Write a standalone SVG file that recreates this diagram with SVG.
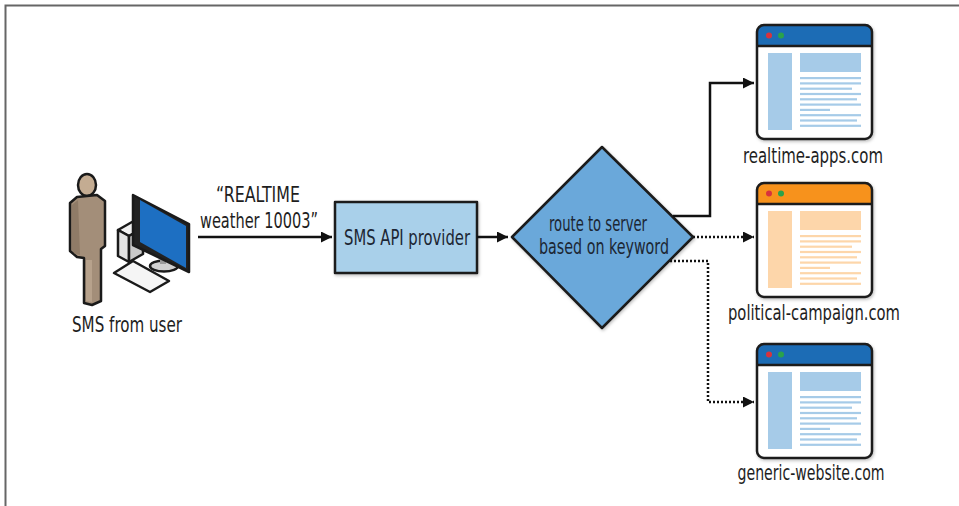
<svg xmlns="http://www.w3.org/2000/svg" xmlns:xlink="http://www.w3.org/1999/xlink" width="959" height="506" viewBox="0 0 959 506">
  <style>
    .lbl { font-family: "DejaVu Sans Condensed", "Liberation Sans", Arial, sans-serif; font-size: 21px; fill: #1e1e1e; text-anchor: middle; }
    .dark { fill: #1c2633; }
    .edge { fill: none; stroke: #111; stroke-width: 2.5; }
    .dot { stroke-dasharray: 2 2; }
    .outline { stroke: #1a1a1a; stroke-width: 2.5; stroke-linejoin: round; }
    .frame { fill: none; stroke: #666; stroke-width: 2; }
  </style>
  <defs>
    <marker id="arrow" viewBox="0 0 10 10" refX="10" refY="5" markerWidth="4.4" markerHeight="4.4" orient="auto" markerUnits="strokeWidth">
      <path d="M0,0 L10,5 L0,10 Z" fill="#111"/>
    </marker>
    <filter id="shadow" x="-10%" y="-10%" width="130%" height="130%">
      <feDropShadow dx="1" dy="1.5" stdDeviation="1.5" flood-color="#000" flood-opacity="0.25"/>
    </filter>
    <!-- page contents of a browser window, tinted through currentColor -->
    <g id="page">
      <rect x="11" y="28" width="24" height="77" fill="currentColor"/>
      <rect x="43" y="28" width="61" height="19" fill="currentColor"/>
      <g fill="currentColor">
        <rect x="43" y="52" width="61" height="2.2"/>
        <rect x="43" y="57.3" width="61" height="2.2"/>
        <rect x="43" y="62.6" width="52" height="2.2"/>
        <rect x="43" y="67.9" width="61" height="2.2"/>
        <rect x="43" y="73.2" width="57" height="2.2"/>
        <rect x="43" y="78.5" width="61" height="2.2"/>
        <rect x="43" y="83.8" width="30" height="2.2"/>
        <rect x="43" y="89.1" width="61" height="2.2"/>
        <rect x="43" y="94.4" width="57" height="2.2"/>
        <rect x="43" y="99.7" width="61" height="2.2"/>
      </g>
    </g>
    <path id="titlebar" d="M0,7 Q0,0 7,0 H108 Q115,0 115,7 V21 H0 Z"/>
  </defs>

  <rect width="959" height="506" fill="#fff"/>
  <path class="frame" d="M5.5,506 V5.5 H959"/>

  <!-- user at a computer -->
  <g id="user">
    <ellipse cx="87" cy="185" rx="9" ry="11" fill="#c4ac92" class="outline"/>
    <path class="outline" fill="#a38e79" d="M77,197 L97,195 L105,201 L105,246 L101,249 L101,301 L92,305 L84,303 L84,258 L77,257 L70,251 L70,203 Z"/>
    <path fill="#8f7b67" d="M72,205 L78,200 L80,255 L75,254 L72,250 Z"/>
    <path fill="#b7a28c" d="M86,260 L92,260 L92,302 L86,301 Z"/>
    <!-- tower -->
    <path class="outline" fill="#f2f2f2" d="M118,230 L132,222 L143,228 L129,236 Z"/>
    <path class="outline" fill="#e4e4e4" d="M118,230 L129,236 L129,262 L118,256 Z"/>
    <path class="outline" fill="#c9c9c9" d="M129,236 L143,228 L143,254 L129,262 Z"/>
    <!-- stand -->
    <ellipse cx="164" cy="266" rx="14" ry="5.5" fill="#d0d0d0" class="outline"/>
    <rect x="160" y="252" width="6" height="12" fill="#9a9a9a"/>
    <!-- monitor -->
    <path class="outline" fill="#222" d="M133,195 L189,224 L189,272 L133,245 Z"/>
    <path fill="#1d6fc2" d="M140,200 L186,226 L186,268 L140,242 Z"/>
    <!-- keyboard -->
    <path class="outline" fill="#f5f5f5" d="M114,273 L133,261 L169,281 L150,292 Z"/>
    <text class="lbl" x="127" y="332" textLength="110" lengthAdjust="spacingAndGlyphs">SMS from user</text>
  </g>

  <!-- message text -->
  <g id="message">
    <text class="lbl" x="258" y="202" textLength="84" lengthAdjust="spacingAndGlyphs">“REALTIME</text>
    <text class="lbl" x="259" y="228" textLength="118" lengthAdjust="spacingAndGlyphs">weather 10003”</text>
  </g>

  <!-- SMS API provider -->
  <g id="provider">
    <rect x="335" y="202" width="142" height="71" fill="#a9d0ea" class="outline" filter="url(#shadow)"/>
    <text class="lbl dark" x="407" y="245" textLength="126" lengthAdjust="spacingAndGlyphs">SMS API provider</text>
  </g>

  <!-- routing decision -->
  <g id="router">
    <path d="M602,147 L693,237 L602,328 L512,237 Z" fill="#6aa8da" class="outline" filter="url(#shadow)"/>
    <text class="lbl dark" x="598" y="231" textLength="98" lengthAdjust="spacingAndGlyphs">route to server</text>
    <text class="lbl dark" x="604" y="254" textLength="130" lengthAdjust="spacingAndGlyphs">based on keyword</text>
  </g>

  <!-- realtime-apps.com -->
  <g id="realtime-apps">
    <g transform="translate(757,25)" filter="url(#shadow)">
      <rect x="0" y="0" width="115" height="114" rx="7" fill="#fff"/>
      <use href="#titlebar" fill="#1e6cb5"/>
      <use href="#page" style="color:#a6cbe8"/>
      <circle cx="12" cy="10.5" r="3" fill="#d8333e"/>
      <circle cx="24" cy="10.5" r="3" fill="#2aa24b"/>
      <line x1="0" y1="21" x2="115" y2="21" class="outline"/>
      <rect x="0" y="0" width="115" height="114" rx="7" fill="none" class="outline"/>
    </g>
    <text class="lbl" x="813" y="163" textLength="140" lengthAdjust="spacingAndGlyphs">realtime-apps.com</text>
  </g>

  <!-- political-campaign.com -->
  <g id="political-campaign">
    <g transform="translate(757,183)" filter="url(#shadow)">
      <rect x="0" y="0" width="115" height="114" rx="7" fill="#fff"/>
      <use href="#titlebar" fill="#f7921e"/>
      <use href="#page" style="color:#fdd6aa"/>
      <circle cx="12" cy="10.5" r="3" fill="#d8333e"/>
      <circle cx="24" cy="10.5" r="3" fill="#2aa24b"/>
      <line x1="0" y1="21" x2="115" y2="21" class="outline"/>
      <rect x="0" y="0" width="115" height="114" rx="7" fill="none" class="outline"/>
    </g>
    <text class="lbl" x="814" y="320" textLength="172" lengthAdjust="spacingAndGlyphs">political-campaign.com</text>
  </g>

  <!-- generic-website.com -->
  <g id="generic-website">
    <g transform="translate(757,344)" filter="url(#shadow)">
      <rect x="0" y="0" width="115" height="114" rx="7" fill="#fff"/>
      <use href="#titlebar" fill="#1e6cb5"/>
      <use href="#page" style="color:#a6cbe8"/>
      <circle cx="12" cy="10.5" r="3" fill="#d8333e"/>
      <circle cx="24" cy="10.5" r="3" fill="#2aa24b"/>
      <line x1="0" y1="21" x2="115" y2="21" class="outline"/>
      <rect x="0" y="0" width="115" height="114" rx="7" fill="none" class="outline"/>
    </g>
    <text class="lbl" x="811" y="480" textLength="147" lengthAdjust="spacingAndGlyphs">generic-website.com</text>
  </g>

  <!-- connectors -->
  <g id="connectors">
    <path class="edge" d="M198,237 H332" marker-end="url(#arrow)"/>
    <path class="edge" d="M477,237 H508" marker-end="url(#arrow)"/>
    <path class="edge" d="M673,216 H710 V83 H754" marker-end="url(#arrow)"/>
    <path class="edge dot" d="M693,237 H754" marker-end="url(#arrow)"/>
    <path class="edge dot" d="M670,261 H708 V402 H754" marker-end="url(#arrow)"/>
  </g>
</svg>
